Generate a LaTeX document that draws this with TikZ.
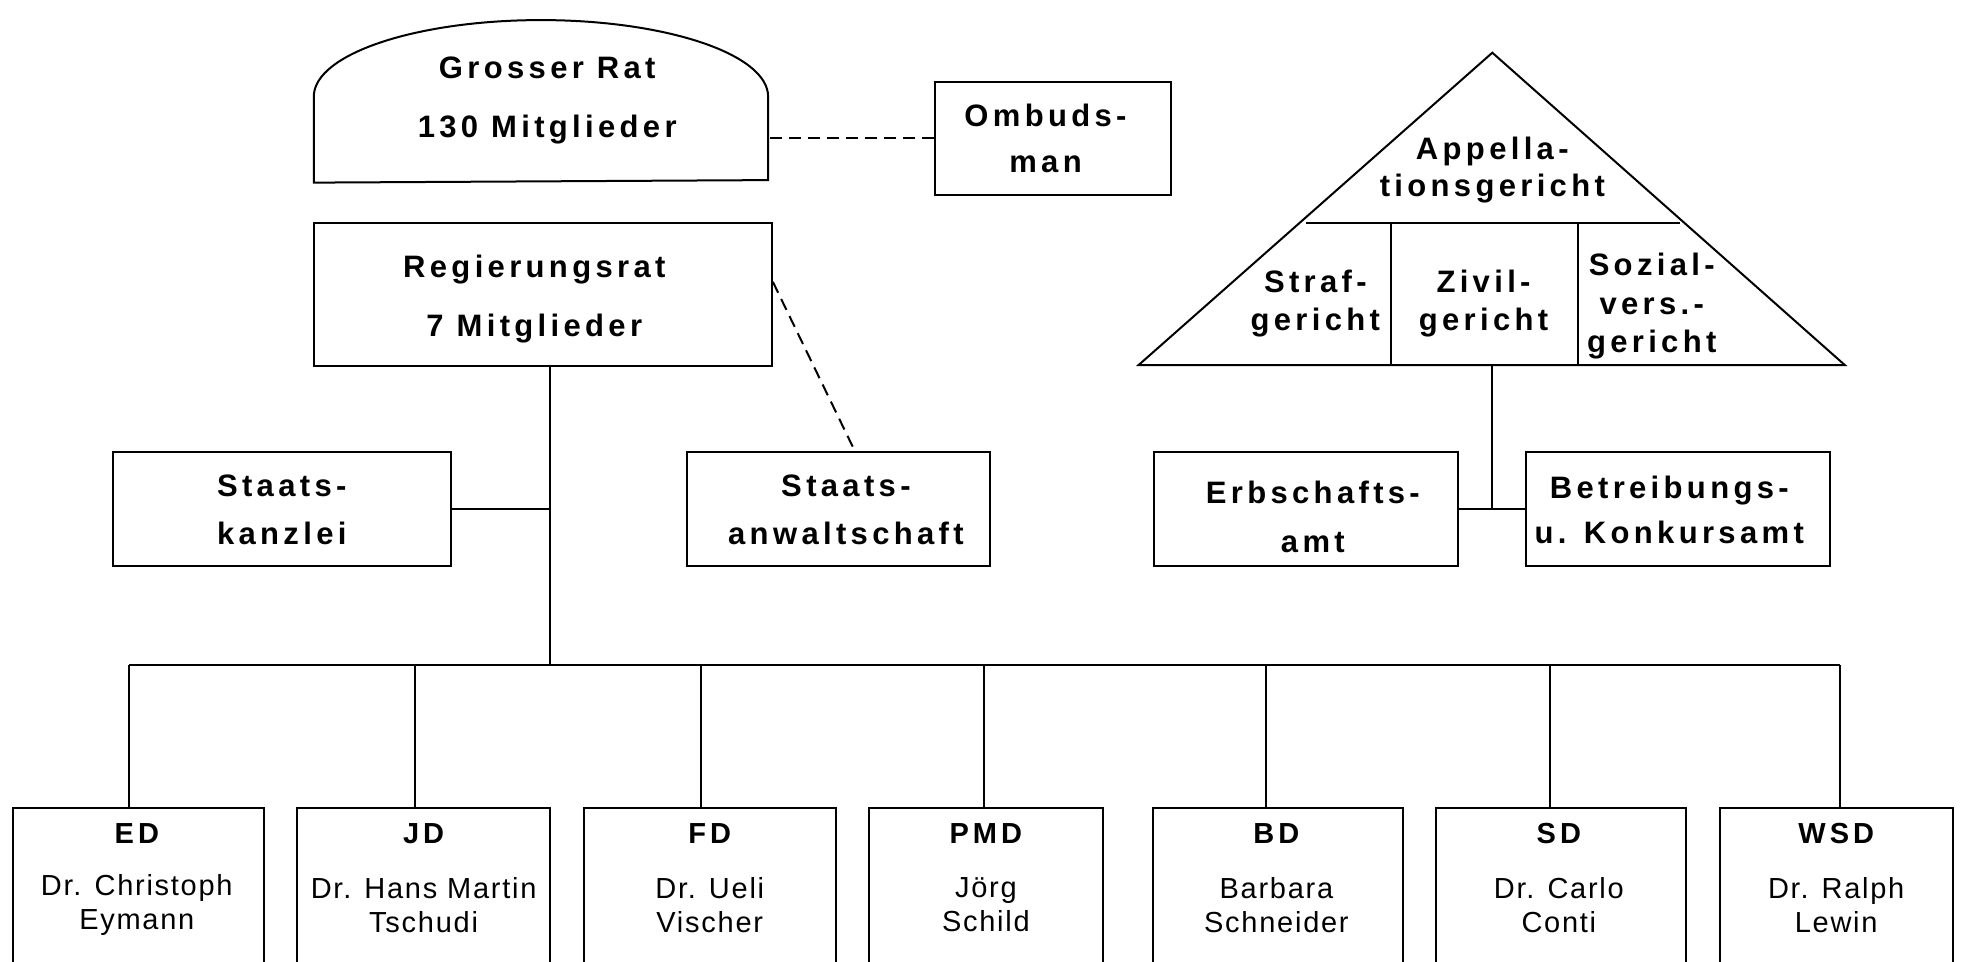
\documentclass[tikz,border=0pt]{standalone}
\usepackage{fontspec}
\newfontfamily\Bfont{Liberation Sans}[LetterSpace=14]
\newfontfamily\Rfont{Liberation Sans}[LetterSpace=6]
\usetikzlibrary{fit,calc}
\begin{document}
\begin{tikzpicture}[x={(0.6275pt,0pt)}, y={(0pt,-0.6275pt)}, line width=1pt,
  box/.style={draw, inner sep=0pt},
  bt/.style={inner sep=0pt, align=center, font=\Bfont\bfseries\fontsize{15.5}{#1}\selectfont},
  lab/.style={inner sep=0pt, anchor=base, font=\Bfont\bfseries\fontsize{14.5}{16}\selectfont},
  nm/.style={inner sep=0pt, align=center, font=\Rfont\fontsize{14.5}{17}\selectfont},
  dsh/.style={dash pattern=on 6pt off 3.5pt}]
\useasboundingbox (0,0) rectangle (1568,766);
\clip (0,0) rectangle (1568,766);

% Grosser Rat
\draw (250,145.5) -- (250,77) .. controls (250,43) and (332,16) .. (431,16)
      .. controls (530,16) and (612,43) .. (612,77) -- (612,143.5) -- cycle;
\node[inner sep=0pt, fit={(250,16) (612,145)}] (gr) {};
\node[bt=29.1] (grt) at (436,80) {Grosser Rat\\130 Mitglieder};

% Ombudsman
\node[box, fit={(745,65) (933,155)}] (omb) {};
\node[bt=23.2] (ombt) at (833,110.5) {Ombuds-\\man};
\draw[dsh] (omb.west) -- (omb.west -| gr.east);

% Regierungsrat
\node[box, fit={(250,178) (615,292)}] (rr) {};
\node[bt=29.6] (rrt) at (425.7,238.5) {Regierungsrat\\7 Mitglieder};

% Staatskanzlei, Staatsanwaltschaft
\node[box, fit={(90,360) (359,451)}] (sk) {};
\node[bt=23.8] (skt) at (224.5,406) {Staats-\\kanzlei};
\node[box, fit={(547,360) (789,451)}] (sa) {};
\node[bt=23.8] (sat) at (674,406) {Staats-\\anwaltschaft};
\draw[dsh] ($(rr.north east)!0.41!(rr.south east)$) -- ($(sa.north)+(13,0)$);

% trunk
\coordinate (tt) at ($(rr.south)+(5.5,0)$);
\coordinate (tb) at ($(tt)+(0,238)$);
\draw (tt) -- (tb);
\draw (sk.east) -- (sk.east -| tt);

% Departments
\node[box, fit={(10,644) (210,800)}] (ed) {};
\node[box, fit={(237,644) (438,800)}] (jd) {};
\node[box, fit={(465,644) (666,800)}] (fd) {};
\node[box, fit={(692,644) (879,800)}] (pmd) {};
\node[box, fit={(919,644) (1118,800)}] (bd) {};
\node[box, fit={(1144,644) (1343,800)}] (sd) {};
\node[box, fit={(1370,644) (1556,800)}] (wsd) {};

\coordinate (d1) at (103,530);
\coordinate (d2) at (331,530);
\coordinate (d3) at (558.5,530);
\coordinate (d4) at (784,530);
\coordinate (d5) at (1009,530);
\coordinate (d6) at (1235,530);
\coordinate (d7) at (1466,530);
\draw (d1) -- (d7);
\draw (d1) -- (d1 |- ed.north);
\draw (d2) -- (d2 |- jd.north);
\draw (d3) -- (d3 |- fd.north);
\draw (d4) -- (d4 |- pmd.north);
\draw (d5) -- (d5 |- bd.north);
\draw (d6) -- (d6 |- sd.north);
\draw (d7) -- (d7 |- wsd.north);

\node[lab] (edl) at (109,672) {ED};
\node[nm] (edn) at (109,721) {Dr. Christoph\\Eymann};
\node[lab] (jdl) at (337.5,672) {JD};
\node[nm] (jdn) at (337.5,721) {Dr. Hans Martin\\Tschudi};
\node[lab] (fdl) at (565.5,672) {FD};
\node[nm] (fdn) at (565.5,721) {Dr. Ueli\\Vischer};
\node[lab] (pmdl) at (785.5,672) {PMD};
\node[nm] (pmdn) at (785.5,721) {Jörg\\Schild};
\node[lab] (bdl) at (1017,672) {BD};
\node[nm] (bdn) at (1017,721) {Barbara\\Schneider};
\node[lab] (sdl) at (1242,672) {SD};
\node[nm] (sdn) at (1242,721) {Dr. Carlo\\Conti};
\node[lab] (wsdl) at (1463,672) {WSD};
\node[nm] (wsdn) at (1463,721) {Dr. Ralph\\Lewin};

% Courts triangle
\coordinate (apex) at (1189,42);
\coordinate (bl) at (907,291);
\coordinate (br) at (1470,291);
\draw (apex) -- (br) -- (bl) -- cycle;
\draw (1040.5,177.4) -- (1338.5,177.4);
\draw (1108.5,177.4) -- (1108.5,291);
\draw (1257,177.4) -- (1257,291);
\node[bt=18.2] (app) at (1189,135.5) {Appella-\\tionsgericht};
\node[bt=19] (straf) at (1048,242) {Straf-\\gericht};
\node[bt=19] (zivil) at (1182,242) {Zivil-\\gericht};
\node[bt=19.2] (sozial) at (1316,244) {Sozial-\\vers.-\\gericht};

% Erbschaftsamt, Betreibungsamt
\node[box, fit={(919.5,360) (1162,451)}] (eb) {};
\node[bt=24.2] (ebt) at (1046,412) {Erbschafts-\\amt};
\node[box, fit={(1216,360) (1458,451)}] (bk) {};
\node[bt=22.6] (bkt) at (1330,406.5) {Betreibungs-\\u. Konkursamt};
\coordinate (tbase) at (1189,291);
\draw (tbase) -- (tbase |- eb.east);
\draw (eb.east) -- (bk.west);
\end{tikzpicture}
\end{document}
